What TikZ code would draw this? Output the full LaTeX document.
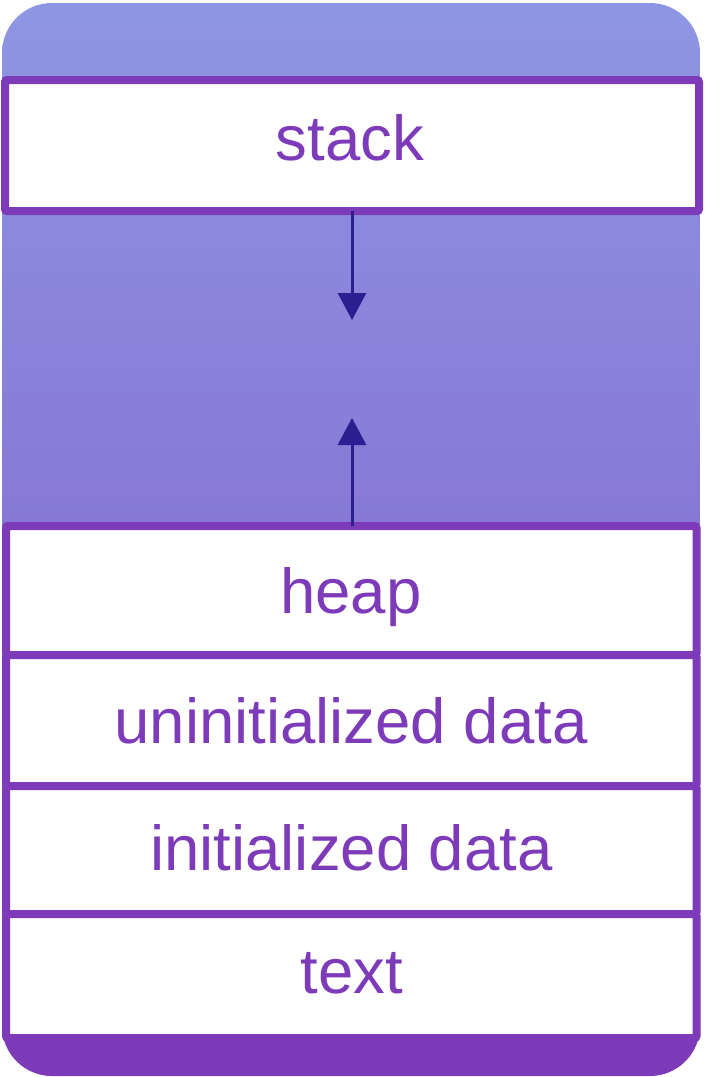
\documentclass[tikz,border=0pt]{standalone}
\usepackage{fontspec}
\setmainfont{Liberation Sans}
\usetikzlibrary{arrows.meta}
\definecolor{lavtop}{HTML}{8E96E3}
\definecolor{lavbot}{HTML}{8777D5}
\definecolor{segpurple}{HTML}{7D3BBA}
\definecolor{arrnavy}{HTML}{2A1E90}
\tikzset{
  segbox/.style={draw=segpurple, line width=8pt, fill=white, rounded corners=2pt,
    inner sep=0pt, outer sep=0pt},
  seglabel/.style={text=segpurple, anchor=base, inner sep=0pt,
    font=\fontsize{63.5}{70}\selectfont},
  growarrow/.style={draw=arrnavy, line width=3pt,
    -{Triangle[width=28pt,length=27pt]}}
}
\begin{document}
\begin{tikzpicture}[x=1pt,y=-1pt]
\useasboundingbox (0,0) rectangle (705,1077);
% container
\begin{scope}
  \clip[rounded corners=50pt] (2,3) rectangle (700,1076);
  \shade[top color=lavtop, bottom color=lavbot] (0,0) rectangle (705,540);
  \fill[segpurple] (0,1000) rectangle (705,1077);
\end{scope}
% segments
\node[segbox, minimum width=694pt, minimum height=131pt] (stack) at (352,145.5) {};
\node[segbox, minimum width=690.5pt, minimum height=129pt] (heap) at (351.25,590.5) {};
\node[segbox, minimum width=690.5pt, minimum height=131pt] (bss) at (351.25,720.5) {};
\node[segbox, minimum width=690.5pt, minimum height=128pt] (data) at (351.25,850) {};
\node[segbox, minimum width=690.5pt, minimum height=124pt] (text) at (351.25,976) {};
% labels
\node[seglabel] (lstack) at (350,160) {stack};
\node[seglabel] (lheap) at (351,613) {heap};
\node[seglabel] (lbss) at (351,743) {uninitialized data};
\node[seglabel] (ldata) at (351.5,870) {initialized data};
\node[seglabel] (ltext) at (352,993) {text};
% growth arrows
\coordinate (stacktip) at (352,320);
\coordinate (heaptip) at (352,418);
\draw[growarrow] (stack.south -| stacktip) -- (stacktip);
\draw[growarrow] (heap.north -| heaptip) -- (heaptip);
\end{tikzpicture}
\end{document}
